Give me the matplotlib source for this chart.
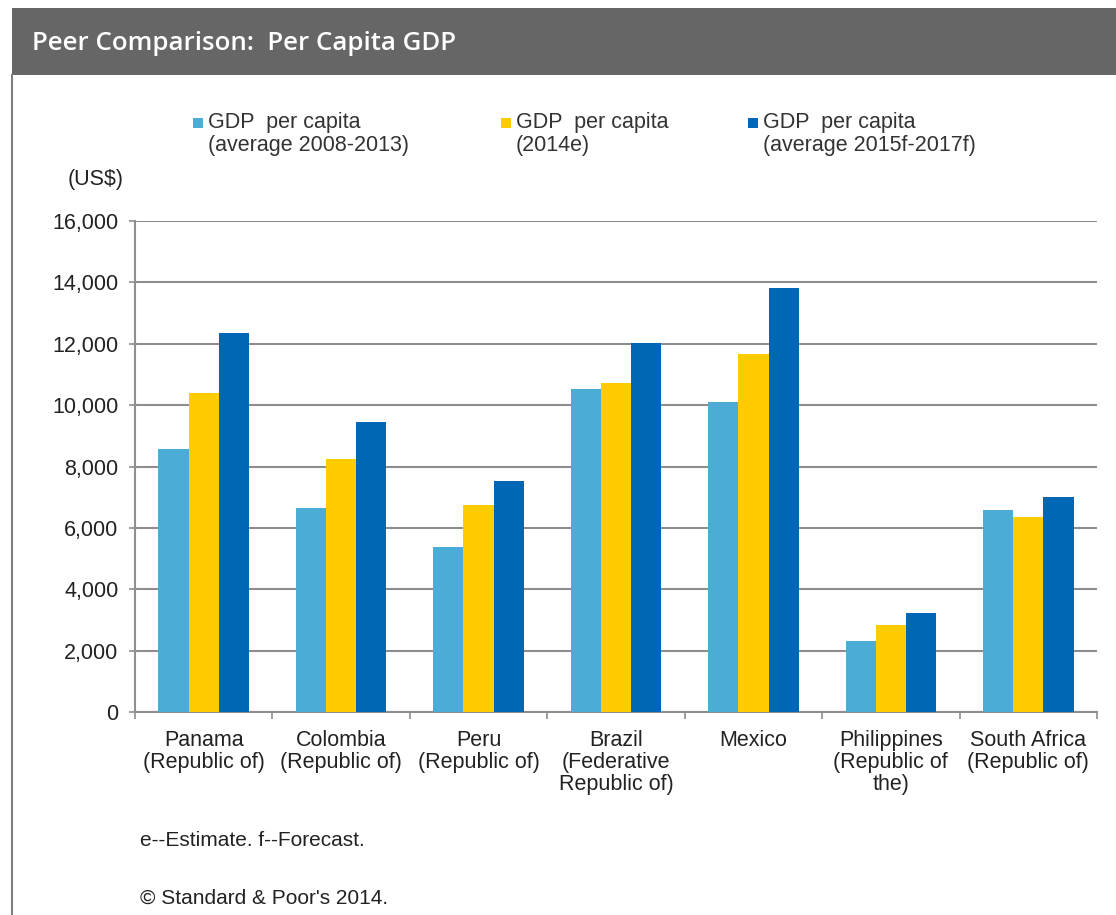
import numpy as np
import matplotlib
matplotlib.use('Agg')
import matplotlib.pyplot as plt
from matplotlib.patches import Rectangle
from matplotlib.lines import Line2D
from matplotlib.ticker import FuncFormatter, MultipleLocator

# GDP per capita by country, US$
countries = ['Panama\n(Republic of)', 'Colombia\n(Republic of)', 'Peru\n(Republic of)',
             'Brazil\n(Federative\nRepublic of)', 'Mexico',
             'Philippines\n(Republic of\nthe)', 'South Africa\n(Republic of)']
avg_2008_2013 = [8570, 6660, 5380, 10530, 10090, 2310, 6590]
est_2014 = [10380, 8240, 6740, 10720, 11670, 2850, 6340]
avg_2015_2017 = [12360, 9440, 7530, 12020, 13810, 3230, 7010]

series_labels = ['GDP  per capita\n(average 2008-2013)',
                 'GDP  per capita\n(2014e)',
                 'GDP  per capita\n(average 2015f-2017f)']
colors = ['#4BACD6', '#FFCC00', '#0066B6']

W, H = 1116, 915
plt.rcParams['font.family'] = ['Liberation Sans', 'DejaVu Sans']
fig = plt.figure(figsize=(W / 100, H / 100), dpi=100)


def fx(x):
    return x / W


def fy(y):
    return 1 - y / H


# header bar and frame
fig.patches.append(Rectangle((fx(12), fy(75)), fx(W - 12), 67 / H, transform=fig.transFigure,
                             facecolor='#666666', edgecolor='none', zorder=0))
fig.lines.append(Line2D([fx(12), fx(12)], [fy(75), 0], transform=fig.transFigure,
                        color='#7f7f7f', lw=1.5))
fig.text(fx(32), fy(43), 'Peer Comparison:  Per Capita GDP', color='white',
         fontsize=18.6, family='Open Sans', fontweight='semibold', va='center', ha='left')

ax = fig.add_axes([fx(135), fy(712), fx(1097 - 135), (712 - 221) / H])

x = np.arange(len(countries))
w = 0.22
for i, (vals, c) in enumerate(zip([avg_2008_2013, est_2014, avg_2015_2017], colors)):
    ax.bar(x + (i - 1) * w, vals, width=w, color=c, edgecolor='none', zorder=3)

ax.set_xlim(-0.5, len(countries) - 0.5)
ax.set_ylim(0, 16000)
ax.yaxis.set_major_locator(MultipleLocator(2000))
ax.yaxis.set_major_formatter(FuncFormatter(lambda v, p: f'{v:,.0f}'))
ax.grid(axis='y', color='#8e8e8e', lw=1.5, zorder=0)

ax.set_xticks(x)
ax.set_xticklabels(countries, fontsize=15.5, linespacing=1.05)
ax.set_xticks(np.arange(-0.5, len(countries)), minor=True)
ax.tick_params(axis='x', which='major', length=0, pad=13, colors='#222222')
ax.tick_params(axis='x', which='minor', length=5, width=1.2, color='#8e8e8e', direction='out')
ax.tick_params(axis='y', length=4, width=1.2, color='#8e8e8e', pad=8, labelsize=15.5,
               labelcolor='#222222')

for side in ['top', 'right']:
    ax.spines[side].set_visible(False)
for side in ['left', 'bottom']:
    ax.spines[side].set_color('#8e8e8e')
    ax.spines[side].set_linewidth(1.5)

# legend drawn across the top
for lx, label, c in zip([193, 501, 748], series_labels, colors):
    fig.patches.append(Rectangle((fx(lx), fy(128)), 10 / W, 10 / H, transform=fig.transFigure,
                                 facecolor=c, edgecolor='none'))
    fig.text(fx(lx + 15), fy(112), label, fontsize=15.5, color='#333333',
             va='top', ha='left', linespacing=1.12)

fig.text(fx(68), fy(180), '(US$)', fontsize=15.5, color='#222222', va='center')
fig.text(fx(140), fy(840), 'e--Estimate. f--Forecast.', fontsize=15, color='#222222', va='center')
fig.text(fx(140), fy(898), "\u00a9 Standard & Poor's 2014.", fontsize=15, color='#222222', va='center')

fig.savefig('out.png', dpi=100, facecolor='white')
